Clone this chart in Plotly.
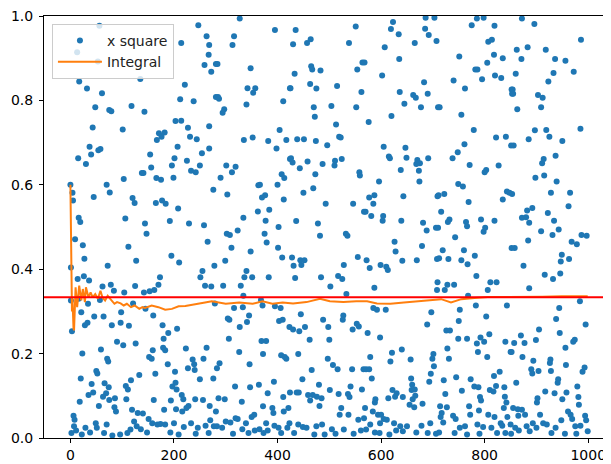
import plotly.graph_objects as go

# (sample index, x square value), strip by strip
strip_1 = [(0,.600),(56,.977),(13,.914),(53,.892),(17,.845),(32,.828),(61,.817),(48,.784),(75,.777),(79,.774),
(118,.787),(43,.736),(101,.731),(37,.690),(54,.682),(40,.672),(58,.685),(15,.663),(30,.649),(135,.851),
(138,.628),(103,.614),(70,.600),(76,.582),(45,.571),(120,.569),(124,.557),(4,.581),(5,.563),(16,.522),
(19,.512),(106,.520),(9,.471),(24,.457),(112,.453),(27,.425),(127,.420),(1,.404),(72,.408),(14,.377),
(26,.383),(36,.373),(62,.359),(78,.363),(84,.349),(125,.360),(104,.345),(16,.330),(34,.318),(57,.327),
(1,.326),(21,.298),(46,.288),(64,.288),(98,.298),(121,.319),(3,.253),(33,.273),(28,.267),(80,.267),
(97,.273),(113,.266),(90,.228),(102,.220),(126,.224),(23,.200),(59,.210),(71,.188),(73,.181),(50,.159),
(52,.153),(20,.141),(133,.149),(117,.137),(66,.130),(41,.128),(74,.120),(107,.123),(111,.115),(35,.102),
(44,.108),(69,.106),(86,.094),(18,.086),(63,.098),(75,.090),(108,.092),(55,.076),(85,.073),(88,.063),
(119,.067),(6,.053),(8,.043),(49,.035),(51,.024),(70,.032),(123,.039),(130,.059),(7,.028),(11,.018),
(29,.024),(38,.013),(65,.012),(116,.020),(128,.028),(136,.021),(2,.012),(22,.008),(81,.006),(96,.008),(110,.012)]

strip_2 = [(247,.978),(214,.936),(263,.952),(268,.931),(267,.908),(259,.884),(272,.868),(281,.886),(221,.837),(212,.803),
(238,.798),(281,.808),(143,.773),(203,.751),(214,.752),(227,.735),(268,.739),(171,.722),(182,.724),(176,.714),
(167,.706),(231,.714),(244,.708),(207,.690),(268,.686),(154,.672),(201,.663),(225,.657),(254,.675),(156,.641),
(196,.646),(250,.646),(141,.628),(166,.616),(175,.612),(199,.617),(233,.633),(242,.630),(276,.588),(165,.557),
(177,.563),(184,.555),(208,.544),(144,.508),(147,.484),(192,.514),(229,.508),(258,.504),(265,.465),(195,.432),
(210,.416),(278,.408),(173,.381),(170,.363),(162,.351),(153,.348),(251,.381),(255,.396),(260,.361),(272,.359),
(142,.345),(279,.319),(145,.306),(160,.290),(178,.267),(206,.259),(189,.249),(180,.235),(159,.208),(152,.192),
(157,.188),(179,.214),(183,.208),(223,.212),(263,.214),(188,.175),(236,.186),(239,.175),(257,.188),(164,.152),
(202,.157),(227,.165),(240,.161),(250,.139),(276,.141),(197,.122),(203,.131),(205,.115),(215,.102),(161,.090),
(218,.092),(194,.089),(228,.076),(241,.092),(256,.090),(181,.067),(204,.068),(216,.063),(224,.071),(269,.076),
(281,.063),(140,.058),(151,.045),(158,.035),(168,.032),(174,.033),(183,.032),(200,.035),(219,.026),(233,.035),
(246,.024),(261,.029),(270,.042),(277,.028),(148,.013),(193,.013),(209,.008),(242,.010),(267,.012)]

strip_3 = [(327,.994),(395,.967),(316,.952),(313,.931),(284,.886),(348,.876),(342,.829),(357,.829),(353,.818),(424,.829),
(285,.808),(287,.804),(340,.790),(411,.798),(297,.779),(294,.771),(404,.730),(335,.706),(352,.712),(382,.704),
(417,.706),(398,.686),(424,.661),(301,.646),(319,.643),(312,.630),(290,.617),(408,.625),(413,.616),(363,.599),
(366,.600),(400,.600),(303,.577),(376,.575),(370,.570),(412,.565),(384,.541),(362,.537),(334,.522),(377,.515),
(402,.500),(323,.492),(302,.484),(308,.481),(375,.484),(379,.463),(311,.451),(401,.451),(348,.442),(409,.428),
(299,.420),(340,.396),(336,.381),(351,.381),(383,.381),(295,.361),(329,.361),(334,.337),(368,.327),(316,.308),
(333,.310),(371,.314),(395,.312),(406,.308),(304,.283),(307,.280),(327,.263),(341,.275),(345,.290),(403,.277),
(410,.280),(423,.263),(306,.235),(369,.230),(378,.230),(326,.204),(372,.199),(407,.196),(417,.188),(414,.192),
(288,.177),(283,.165),(346,.175),(393,.133),(318,.122),(347,.120),(364,.126),(286,.094),(298,.092),(331,.086),
(381,.106),(411,.097),(372,.075),(390,.071),(392,.059),(355,.055),(350,.050),(319,.047),(323,.045),(300,.039),
(309,.037),(339,.035),(378,.035),(412,.063),(421,.071),(283,.028),(293,.024),(332,.021),(356,.018),(365,.021),
(381,.018),(394,.029),(402,.024),(419,.024),(314,.010),(344,.012),(373,.012),(407,.012)]

strip_4 = [(551,.975),(435,.967),(464,.945),(457,.936),(430,.933),(538,.936),(564,.890),(465,.881),(467,.873),(483,.871),
(554,.873),(433,.863),(463,.839),(475,.828),(515,.834),(562,.820),(425,.829),(470,.784),(472,.761),(504,.787),
(552,.784),(513,.743),(519,.714),(522,.712),(438,.708),(451,.708),(474,.704),(496,.694),(426,.663),(429,.653),
(443,.639),(458,.655),(487,.649),(511,.657),(524,.661),(510,.646),(473,.625),(558,.630),(559,.622),(469,.592),
(450,.581),(493,.555),(546,.555),(567,.536),(436,.514),(478,.508),(482,.479),(532,.484),(535,.479),(555,.429),
(428,.428),(431,.408),(444,.421),(452,.421),(446,.410),(528,.410),(434,.379),(484,.381),(517,.384),(525,.377),
(502,.359),(533,.341),(445,.293),(527,.290),(526,.280),(488,.280),(553,.271),(557,.264),(545,.257),(430,.257),
(442,.253),(453,.263),(498,.263),(462,.233),(500,.233),(440,.199),(497,.188),(507,.173),(516,.163),(544,.163),
(566,.163),(466,.161),(448,.139),(480,.126),(501,.114),(541,.122),(536,.104),(563,.115),(424,.108),(437,.108),
(441,.108),(459,.102),(468,.102),(476,.098),(485,.094),(518,.104),(539,.097),(463,.089),(481,.076),(523,.071),
(520,.055),(537,.055),(556,.043),(423,.035),(440,.032),(449,.026),(456,.024),(475,.028),(486,.032),(505,.021),
(528,.020),(561,.018),(432,.012),(471,.008),(491,.008),(512,.010),(547,.010)]

strip_5 = [(623,.986),(686,.996),(703,.996),(619,.969),(685,.970),(634,.957),(692,.955),(707,.941),(607,.926),(665,.936),
(635,.898),(568,.890),(602,.859),(683,.843),(636,.820),(662,.813),(667,.806),(690,.816),(645,.792),(677,.784),
(710,.784),(620,.763),(576,.749),(605,.690),(647,.688),(615,.667),(617,.663),(649,.664),(670,.659),(675,.651),
(691,.663),(668,.649),(638,.635),(673,.633),(596,.608),(674,.608),(587,.575),(577,.570),(585,.555),(643,.573),
(709,.573),(570,.536),(581,.526),(604,.526),(603,.515),(639,.515),(681,.510),(688,.492),(706,.498),(626,.465),
(628,.442),(679,.455),(572,.421),(578,.403),(599,.410),(610,.406),(613,.398),(641,.420),(669,.421),(708,.424),
(587,.356),(708,.351),(585,.308),(592,.304),(609,.304),(697,.298),(689,.269),(574,.249),(598,.238),(621,.202),
(640,.210),(579,.192),(657,.186),(618,.181),(701,.199),(699,.188),(571,.163),(577,.163),(582,.141),(702,.170),
(696,.152),(693,.133),(658,.141),(660,.126),(659,.114),(665,.115),(622,.114),(630,.106),(589,.092),(588,.084),
(614,.094),(627,.098),(642,.097),(661,.092),(666,.100),(655,.079),(664,.073),(569,.071),(584,.063),(680,.081),
(594,.055),(600,.055),(605,.045),(611,.043),(625,.035),(567,.047),(579,.032),(598,.035),(637,.028),(650,.028),
(678,.029),(695,.035),(571,.020),(588,.013),(629,.018),(642,.016),(668,.013),(690,.012),(706,.010),(597,.012),(616,.008)]

strip_6 = [(785,.994),(798,.996),(775,.978),(819,.977),(807,.939),(814,.944),(751,.904),(818,.908),(835,.900),(805,.889),
(782,.873),(786,.873),(820,.859),(832,.853),(795,.850),(740,.847),(762,.828),(852,.826),(853,.816),(713,.784),
(755,.766),(779,.730),(822,.712),(841,.714),(851,.693),(761,.696),(748,.677),(738,.663),(771,.647),(803,.635),
(800,.630),(827,.646),(749,.602),(758,.596),(843,.584),(848,.581),(711,.575),(722,.578),(769,.559),(835,.565),
(716,.536),(732,.518),(729,.512),(764,.512),(766,.502),(793,.518),(819,.515),(801,.498),(798,.489),(710,.498),
(743,.476),(852,.450),(719,.445),(712,.426),(730,.424),(760,.445),(755,.421),(767,.412),(781,.432),(784,.384),
(709,.369),(728,.363),(741,.363),(723,.351),(811,.369),(823,.369),(806,.351),(768,.337),(783,.314),(843,.314),
(752,.304),(803,.288),(750,.277),(726,.255),(733,.255),(749,.235),(766,.235),(809,.246),(792,.238),(799,.228),
(785,.224),(840,.228),(787,.204),(805,.192),(728,.212),(731,.188),(850,.204),(818,.147),(829,.157),(721,.137),
(745,.144),(773,.139),(780,.122),(788,.120),(822,.123),(838,.120),(756,.112),(724,.104),(791,.097),(793,.089),
(810,.114),(817,.110),(839,.098),(842,.084),(714,.075),(727,.073),(717,.059),(770,.075),(837,.071),(715,.050),
(739,.053),(744,.045),(772,.055),(789,.065),(807,.055),(819,.050),(831,.035),(844,.050),(720,.037),(752,.024),
(762,.028),(786,.032),(797,.026),(813,.024),(834,.029),(850,.032),(712,.013),(742,.012),(766,.008),(790,.010),
(824,.012),(840,.012)]

strip_7 = [(872,.994),(896,.981),(986,.944),(862,.920),(883,.926),(918,.920),(871,.898),(936,.898),(956,.894),(933,.865),
(972,.868),(860,.863),(923,.845),(854,.826),(855,.816),(903,.813),(912,.806),(909,.784),(863,.779),(985,.733),
(897,.729),(919,.730),(885,.708),(925,.714),(950,.704),(856,.693),(937,.669),(914,.661),(911,.651),(898,.617),
(915,.622),(939,.608),(853,.578),(928,.581),(965,.581),(962,.549),(892,.545),(882,.539),(880,.523),(872,.522),
(886,.510),(922,.533),(934,.515),(943,.494),(909,.490),(931,.481),(987,.481),(997,.479),(884,.468),(858,.450),
(968,.465),(978,.459),(949,.434),(947,.418),(963,.424),(875,.408),(916,.387),(932,.377),(946,.390),(886,.355),
(984,.324),(944,.308),(938,.282),(995,.269),(905,.257),(945,.249),(857,.225),(870,.243),(877,.225),(899,.232),
(974,.233),(971,.228),(852,.204),(873,.192),(894,.183),(927,.186),(926,.178),(956,.214),(957,.173),(890,.163),
(904,.159),(892,.153),(928,.159),(989,.157),(993,.167),(942,.139),(941,.131),(861,.131),(979,.122),(902,.094),
(901,.084),(917,.110),(935,.106),(958,.108),(981,.097),(950,.092),(982,.079),(855,.071),(864,.068),(872,.067),
(878,.055),(865,.053),(907,.055),(961,.063),(966,.055),(969,.045),(948,.042),(994,.053),(996,.042),(893,.035),
(900,.024),(913,.035),(920,.032),(937,.024),(975,.028),(985,.029),(859,.024),(866,.018),(881,.028),(887,.016),
(851,.010),(929,.012),(955,.010),(977,.010),(999,.016)]

# running mean ("Integral")
integral_points = [(0,.60),(1,.42),(2,.36),(3,.30),(4,.33),(5,.28),(6,.26),(7,.255),(8,.30),(9,.33),(10,.357),
(13,.310),(17,.361),(21,.326),(24,.353),(28,.322),(30,.357),(35,.333),(39,.345),(43,.333),(48,.341),(53,.330),
(58,.349),(62,.333),(67,.326),(72,.337),(79,.327),(85,.318),(90,.322),(97,.319),(103,.314),(109,.318),(117,.310),
(124,.314),(133,.306),(139,.310),(144,.308),(157,.314),(170,.310),(183,.304),(196,.306),(209,.312),(222,.313),
(234,.315),(247,.318),(260,.321),(273,.324),(300,.318),(326,.321),(352,.318),(371,.324),(390,.318),(410,.321),
(430,.319),(456,.322),(482,.330),(501,.324),(527,.322),(552,.324),(573,.324),(592,.319),(618,.318),(644,.321),
(670,.324),(695,.327),(716,.329),(735,.321),(755,.329),(780,.332),(806,.334),(832,.334),(872,.334),(911,.335),
(949,.336),(999,.336)]

target_value = 1 / 3
x_ticks = [0, 200, 400, 600, 800, 1000]
y_ticks = [0.0, 0.2, 0.4, 0.6, 0.8, 1.0]

points = strip_1 + strip_2 + strip_3 + strip_4 + strip_5 + strip_6 + strip_7
xs = [p[0] for p in points]
ys = [p[1] for p in points]
ix = [p[0] for p in integral_points]
iv = [p[1] for p in integral_points]

fig = go.Figure()
fig.add_trace(go.Scatter(x=xs, y=ys, mode="markers", name="x square",
                         marker=dict(color="#1f77b4", size=6, line=dict(width=0))))
fig.add_trace(go.Scatter(x=ix, y=iv, mode="lines", name="Integral",
                         line=dict(color="#ff7f0e", width=2)))
fig.add_shape(type="line", xref="paper", x0=0, x1=1, yref="y", y0=target_value, y1=target_value,
              line=dict(color="red", width=2), layer="above")

# the page body has an 8px margin, so the figure is laid out 8px smaller
fig.update_layout(
    width=603, height=456,
    margin=dict(l=36, r=0, t=5, b=26, pad=0),
    paper_bgcolor="white", plot_bgcolor="white",
    font=dict(family="DejaVu Sans", size=14, color="black"),
    showlegend=True,
    legend=dict(x=0.014, y=0.981, xanchor="left", yanchor="top", itemwidth=44,
                bgcolor="rgba(255,255,255,0.8)", bordercolor="#cccccc", borderwidth=1,
                font=dict(family="DejaVu Sans", size=14, color="#222222")),
)
fig.update_xaxes(range=[-51, 1044], tickvals=x_ticks, ticks="outside", ticklen=4, tickwidth=1,
                 tickcolor="black", showline=True, linecolor="black", linewidth=1, mirror=True,
                 showgrid=False, zeroline=False, ticklabeloverflow="allow")
fig.update_yaxes(range=[0, 1], tickvals=y_ticks, tickformat=".1f", ticks="outside", ticklen=4,
                 tickwidth=1, tickcolor="black", showline=True, linecolor="black", linewidth=1,
                 showgrid=False, zeroline=False, ticklabeloverflow="allow", ticklabelstandoff=3)

fig.write_html("out.html")
